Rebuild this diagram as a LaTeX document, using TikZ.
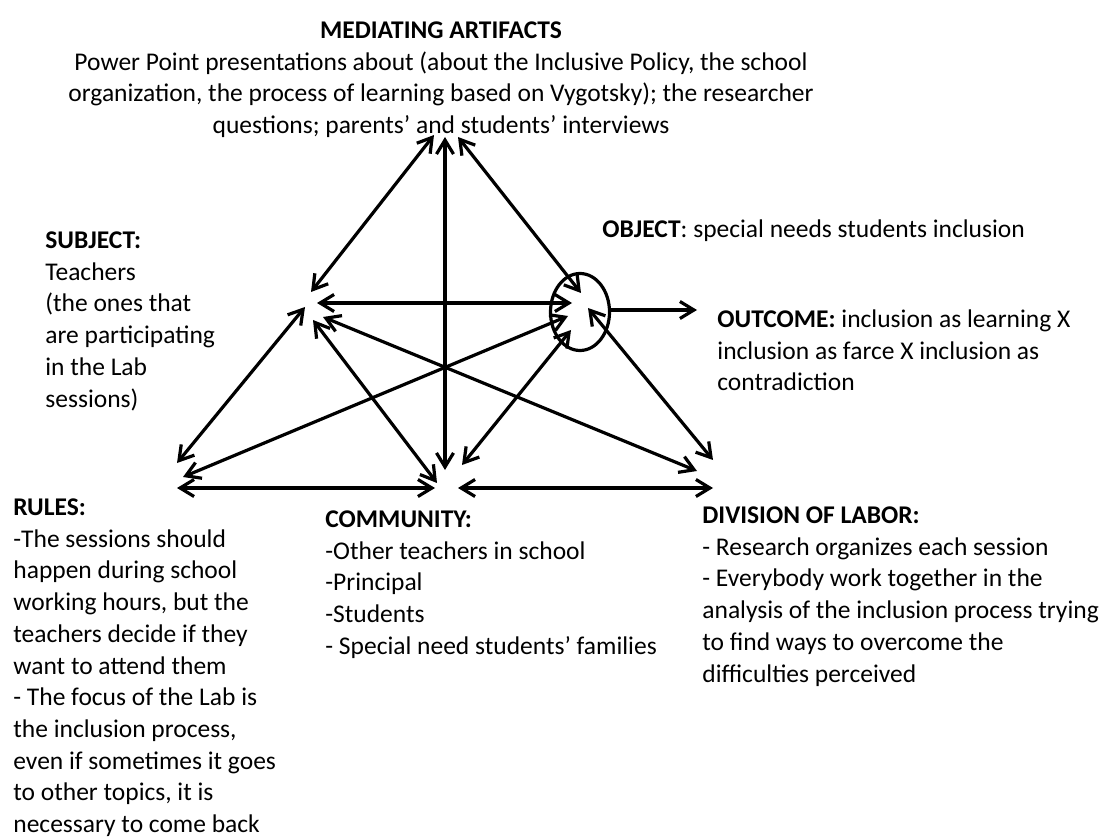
\documentclass[tikz,border=0pt]{standalone}
\usepackage{fontspec}
\setmainfont{Carlito}
\usetikzlibrary{arrows.meta, shapes.geometric}

\begin{document}
\begin{tikzpicture}[x=0.5pt,y=-0.5pt,>={Straight Barb[length=7pt,width=8.5pt]},
        link/.style={line width=1.6pt},
        label/.style={inner sep=0pt,align=left,anchor=north west,font=\fontsize{12.75}{15.85}\selectfont}]
    \useasboundingbox (0,0) rectangle (1113,839);

      % texts (first baseline sits one strut below the node top)
      \node[label,align=center,anchor=north] (artifacts) at (441,16)
        {\strut\textbf{MEDIATING ARTIFACTS}\\Power Point presentations about (about the  Inclusive Policy, the school\\organization, the process of learning based on Vygotsky);  the researcher\\questions; parents’ and students’ interviews};
      \node[label] (subject) at (45,226)
        {\strut\textbf{SUBJECT:}\\Teachers\\(the ones that\\are participating\\in the  Lab\\sessions)};
      \node[label] (object) at (602,215)
        {\strut\textbf{OBJECT}: special needs students inclusion};
      \node[label] (outcome) at (717,305)
        {\strut\textbf{OUTCOME:} inclusion as learning X\\inclusion as farce X inclusion as\\contradiction};
      \node[label] (rules) at (13,493)
        {\strut\textbf{RULES:}\\-The sessions  should\\happen during school\\working hours, but the\\teachers decide if they\\want to attend them\\- The  focus of the Lab is\\the inclusion process,\\even if sometimes it goes\\to other topics, it is\\necessary to come back};
      \node[label] (community) at (325,505)
        {\strut\textbf{COMMUNITY:}\\-Other teachers in school\\-Principal\\-Students\\- Special need students’ families};
      \node[label] (division) at (702,501)
        {\strut\textbf{DIVISION OF LABOR:}\\-  Research organizes each session\\- Everybody work together in the\\analysis of the inclusion process trying\\to find ways to overcome the\\difficulties perceived};

      % object circle
      \node[draw,ellipse,line width=1.6pt,minimum width=29.5pt,minimum height=38.5pt,inner sep=0pt] (obj) at (580,312) {};

      % arrow ends
      \coordinate (art-s) at (434,135);
      \coordinate (art-c) at (445,137);
      \coordinate (art-o) at (458,137);
      \coordinate (sub-a) at (311,292);
      \coordinate (sub-o) at (317,303);
      \coordinate (sub-r) at (305,307);
      \coordinate (sub-c) at (313,320);
      \coordinate (sub-d) at (323,317);
      \coordinate (obj-a) at (581,293);
      \coordinate (obj-s) at (572,303);
      \coordinate (obj-r) at (568,316);
      \coordinate (obj-c) at (571,330);
      \coordinate (obj-d) at (588,308);
      \coordinate (rul-s) at (177,463);
      \coordinate (rul-o) at (183,477);
      \coordinate (rul-c) at (177,488);
      \coordinate (com-a) at (445,470);
      \coordinate (com-s) at (437,483);
      \coordinate (com-r) at (435,488);
      \coordinate (com-o) at (462,465);
      \coordinate (com-d) at (458,488);
      \coordinate (div-s) at (697,471);
      \coordinate (div-o) at (713,460);
      \coordinate (div-c) at (713,488);
      \coordinate (out) at (697,310);

      \path[link,<->] (art-s) edge (sub-a)
                      (art-c) edge (com-a)
                      (art-o) edge (obj-a)
                      (sub-o) edge (obj-s)
                      (sub-r) edge (rul-s)
                      (sub-c) edge (com-s)
                      (sub-d) edge (div-s)
                      (obj-r) edge (rul-o)
                      (obj-c) edge (com-o)
                      (obj-d) edge (div-o)
                      (rul-c) edge (com-r)
                      (com-d) edge (div-c);
      \draw[link,->] (obj.east |- out) -- (out);
    \end{tikzpicture}
\end{document}
